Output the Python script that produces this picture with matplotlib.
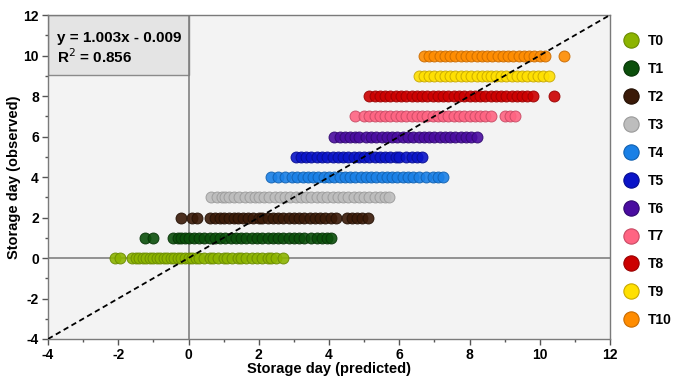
import matplotlib
matplotlib.use("Agg")
import matplotlib.pyplot as plt
from matplotlib.lines import Line2D
from matplotlib.patches import Rectangle
from matplotlib.ticker import MultipleLocator

plt.rcParams['font.family'] = ['Liberation Sans', 'DejaVu Sans']
plt.rcParams['axes.unicode_minus'] = False

labels = ["T0", "T1", "T2", "T3", "T4", "T5", "T6", "T7", "T8", "T9", "T10"]
observed = [0, 1, 2, 3, 4, 5, 6, 7, 8, 9, 10]
colors = ["#8cb400", "#0b4f0b", "#3a1a08", "#bdbdbd", "#1a80e6", "#0a14c8",
          "#4a0ca0", "#ff6482", "#cc0000", "#ffe000", "#ff8c00"]
edges = ["#6a8a00", "#063306", "#231004", "#9a9a9a", "#1060b0", "#060c90",
         "#300870", "#c84a64", "#990000", "#c8a800", "#c86a00"]

T0 = [-2.1, -1.95, -1.6, -1.5, -1.4, -1.3, -1.2, -1.1, -1.0, -0.9, -0.8, -0.7, -0.6,
      -0.5, -0.4, -0.3, -0.2, -0.1, 0.0, 0.1, 0.2, 0.3, 0.45, 0.6, 0.7, 0.85, 1.0,
      1.1, 1.25, 1.4, 1.5, 1.65, 1.8, 1.95, 2.1, 2.25, 2.35, 2.5, 2.7]
T1 = [-1.25, -1.0, -0.45, -0.3, -0.2, -0.1, 0.0, 0.15, 0.3, 0.45, 0.6, 0.75, 0.9,
      1.05, 1.2, 1.35, 1.5, 1.65, 1.8, 1.95, 2.1, 2.25, 2.4, 2.55, 2.7, 2.85, 3.0,
      3.15, 3.3, 3.5, 3.65, 3.8, 3.95, 4.05]
T2 = [-0.2, 0.1, 0.25, 0.6, 0.75, 0.9, 1.0, 1.15, 1.3, 1.4, 1.55, 1.7, 1.85, 2.0,
      2.1, 2.25, 2.4, 2.55, 2.7, 2.85, 3.0, 3.15, 3.3, 3.45, 3.6, 3.75, 3.9, 4.05,
      4.2, 4.5, 4.65, 4.8, 4.95, 5.1]
T3 = [0.65, 0.8, 0.95, 1.05, 1.15, 1.3, 1.45, 1.6, 1.75, 1.9, 2.0, 2.15, 2.3, 2.45,
      2.6, 2.75, 2.9, 3.05, 3.2, 3.35, 3.5, 3.65, 3.8, 3.95, 4.1, 4.25, 4.4, 4.55,
      4.7, 4.85, 5.0, 5.15, 5.3, 5.45, 5.6, 5.7]
T4 = [2.35, 2.55, 2.75, 2.95, 3.1, 3.25, 3.4, 3.55, 3.7, 3.85, 4.0, 4.15, 4.3, 4.45,
      4.6, 4.75, 4.9, 5.05, 5.2, 5.35, 5.5, 5.65, 5.8, 5.95, 6.1, 6.25, 6.4, 6.55,
      6.75, 6.95, 7.1, 7.25]
T5 = [3.05, 3.2, 3.35, 3.5, 3.65, 3.8, 3.95, 4.1, 4.25, 4.4, 4.55, 4.7, 4.85, 5.0,
      5.15, 5.3, 5.45, 5.6, 5.75, 5.9, 6.0, 6.2, 6.35, 6.5, 6.65]
T6 = [4.15, 4.3, 4.45, 4.6, 4.75, 4.85, 5.05, 5.2, 5.35, 5.5, 5.65, 5.8, 5.95, 6.1,
      6.25, 6.4, 6.55, 6.7, 6.85, 7.0, 7.15, 7.3, 7.45, 7.6, 7.75, 7.9, 8.05, 8.2]
T7 = [4.75, 5.0, 5.15, 5.3, 5.45, 5.6, 5.75, 5.9, 6.05, 6.2, 6.35, 6.5, 6.65, 6.8,
      6.95, 7.1, 7.25, 7.4, 7.55, 7.7, 7.85, 8.0, 8.15, 8.3, 8.45, 8.6, 9.0, 9.15, 9.3]
T8 = [5.15, 5.3, 5.45, 5.6, 5.75, 5.9, 6.05, 6.2, 6.35, 6.5, 6.65, 6.8, 6.95, 7.1,
      7.25, 7.4, 7.55, 7.7, 7.85, 8.0, 8.15, 8.3, 8.45, 8.6, 8.75, 8.9, 9.05, 9.2,
      9.35, 9.5, 9.65, 9.8, 10.4]
T9 = [6.55, 6.7, 6.85, 7.0, 7.15, 7.3, 7.45, 7.6, 7.75, 7.9, 8.05, 8.2, 8.35, 8.5,
      8.6, 8.75, 8.9, 9.05, 9.2, 9.35, 9.5, 9.65, 9.8, 9.95, 10.1, 10.25]
T10 = [6.7, 6.85, 7.0, 7.15, 7.3, 7.45, 7.6, 7.75, 7.9, 8.05, 8.2, 8.35, 8.5, 8.65,
       8.8, 8.95, 9.1, 9.25, 9.4, 9.55, 9.7, 9.85, 10.0, 10.15, 10.7]
predicted = [T0, T1, T2, T3, T4, T5, T6, T7, T8, T9, T10]

eq_text = "y = 1.003x - 0.009"
r2_text = "R$^2$ = 0.856"

fig = plt.figure(figsize=(6.78, 3.78), dpi=100)
ax = fig.add_axes([48/678, 1-339/378, (610-48)/678, (339-15)/378])
ax.set_facecolor("#f3f3f3")
ax.set_xlim(-4, 12)
ax.set_ylim(-4, 12)

# equation box
ax.add_patch(Rectangle((-4, 9.05), 4, 2.95, facecolor="#e4e4e4", edgecolor="#8a8a8a",
                       lw=1.0, zorder=1))
ax.text(-3.75, 10.85, eq_text, fontsize=11, fontweight="bold", va="center", zorder=5)
ax.text(-3.75, 9.95, r2_text, fontsize=11, fontweight="bold", va="center", zorder=5)

ax.axhline(0, color="#808080", lw=1.2, zorder=1)
ax.axvline(0, color="#808080", lw=1.2, zorder=1)

for xs, yv, c, e in zip(predicted, observed, colors, edges):
    ax.scatter(xs, [yv]*len(xs), s=62, facecolor=c, edgecolor=e, linewidths=0.7,
               alpha=0.9, zorder=3)

ax.plot([-4, 12], [-4, 12], ls=(0, (3, 2)), color="black", lw=1.3, zorder=4)

ax.xaxis.set_major_locator(MultipleLocator(2))
ax.xaxis.set_minor_locator(MultipleLocator(1))
ax.yaxis.set_major_locator(MultipleLocator(2))
ax.yaxis.set_minor_locator(MultipleLocator(1))
ax.tick_params(which="major", direction="out", length=4, width=1, color="#555555",
               labelsize=10, pad=2.5)
ax.tick_params(which="minor", direction="out", length=2.5, width=1, color="#555555")
for lab in ax.get_xticklabels() + ax.get_yticklabels():
    lab.set_fontweight("bold")
for sp in ax.spines.values():
    sp.set_color("#7a7a7a")
    sp.set_linewidth(1.0)

ax.set_xlabel("Storage day (predicted)", fontsize=10.5, fontweight="bold", labelpad=0)
ax.set_ylabel("Storage day (observed)", fontsize=10.5, fontweight="bold", labelpad=2)

handles = [Line2D([], [], ls="none", marker="o", markersize=11, markerfacecolor=c,
                  markeredgecolor=e, markeredgewidth=0.8) for c, e in zip(colors, edges)]
leg = fig.legend(handles, labels, loc="center left", bbox_to_anchor=(0.9, 0.522),
                 frameon=False, prop={"weight": "bold", "size": 10},
                 labelspacing=1.0, handlelength=1.2, handletextpad=0.6)

fig.savefig("out.png", dpi=100)
